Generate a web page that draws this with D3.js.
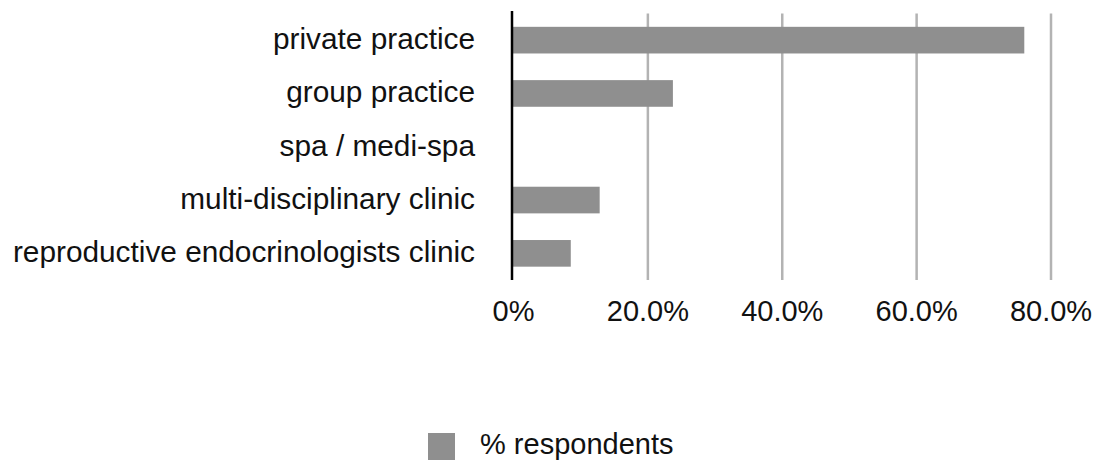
<!DOCTYPE html>
<html>
<head>
<meta charset="utf-8">
<script src="https://cdn.jsdelivr.net/npm/d3@7"></script>
<style>
  body { margin: 0; background: #fff; }
  svg text { font-family: Helvetica, "Liberation Sans", Arial, sans-serif; fill: #111; }
  .grid line { stroke: #b3b3b3; stroke-width: 2.5px; }
  .grid path { display: none; }
</style>
</head>
<body>
<div class="chart"></div>
<script>
// data
var categories = ["private practice", "group practice", "spa / medi-spa", "multi-disciplinary clinic", "reproductive endocrinologists clinic"];
var respondents = [0.761, 0.238, 0, 0.129, 0.086];
var tickValues = [0, 0.2, 0.4, 0.6, 0.8];
var seriesName = "% respondents";

// dimensions
var margin = {top: 13.5, right: 43.5, bottom: 182, left: 513};
var width = 1094 - margin.left - margin.right;
var height = 462 - margin.top - margin.bottom;
var fontSize = 29;
var labelSize = 29.8;
var barColor = "#8f8f8f";

// scales
var x = d3.scaleLinear()
  .domain([0, 0.8])
  .range([0, width]);
var y = d3.scaleBand()
  .domain(categories)
  .range([0, height])
  .paddingInner(0.5)
  .paddingOuter(0.25);

var svg = d3.select(".chart")
  .append("svg")
  .attr("width", 1094)
  .attr("height", 462);

var chart = svg.append("g")
  .attr("transform", "translate(" + margin.left + "," + margin.top + ")");

// gridlines
chart.append("g")
  .attr("class", "grid")
  .attr("transform", "translate(0," + height + ")")
  .call(d3.axisBottom(x)
    .tickValues(tickValues.slice(1))
    .tickSize(height)
    .tickFormat(""))
  .selectAll("line")
  .attr("y2", -height);

// bars
chart.selectAll(".bar")
  .data(respondents)
  .enter()
  .append("rect")
  .attr("class", "bar")
  .attr("x", 0)
  .attr("y", function(d, i) { return y(categories[i]); })
  .attr("width", function(d) { return x(d); })
  .attr("height", y.bandwidth())
  .attr("fill", barColor);

// y axis line
chart.append("line")
  .attr("x1", -1)
  .attr("x2", -1)
  .attr("y1", -2.5)
  .attr("y2", height)
  .attr("stroke", "#000")
  .attr("stroke-width", 2.5);

// category labels
var yAxis = chart.append("g")
  .call(d3.axisLeft(y).tickSize(0).tickPadding(38));
yAxis.select(".domain").remove();
yAxis.selectAll("text")
  .style("font-size", labelSize + "px")
  .attr("dy", "0.3em");

// x tick labels
var xAxis = chart.append("g")
  .attr("transform", "translate(0," + height + ")")
  .call(d3.axisBottom(x)
    .tickValues(tickValues)
    .tickSize(0)
    .tickPadding(20)
    .tickFormat(function(d) { return d === 0 ? "0%" : d3.format(".1%")(d); }));
xAxis.select(".domain").remove();
xAxis.selectAll("text")
  .style("font-size", fontSize + "px")
  .attr("dy", "0.71em");

// legend
var legend = svg.append("g")
  .attr("transform", "translate(428,433)");
legend.append("rect")
  .attr("width", 27)
  .attr("height", 27)
  .attr("fill", barColor);
legend.append("text")
  .attr("x", 52)
  .attr("y", 13.5)
  .attr("dy", "0.27em")
  .style("font-size", fontSize + "px")
  .text(seriesName);
</script>
</body>
</html>
